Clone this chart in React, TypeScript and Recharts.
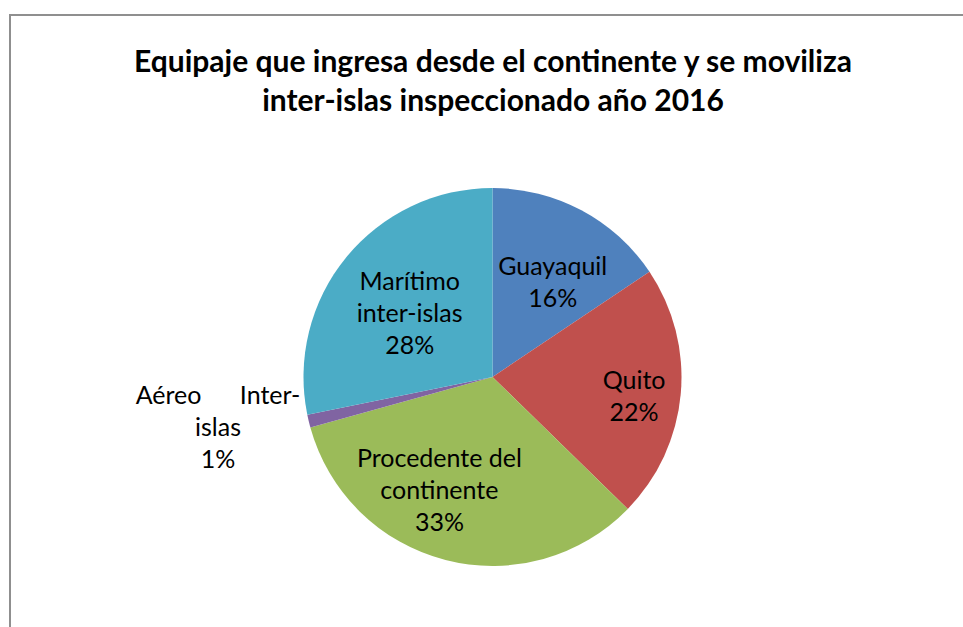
import { PieChart, Pie, Cell } from 'recharts';

const categories = [
  'Guayaquil',
  'Quito',
  'Procedente del continente',
  'Aéreo Inter-islas',
  'Marítimo inter-islas',
];
const values = [15.6, 21.7, 33.4, 1.1, 28.2];
const colors = ['#4F81BD', '#C0504D', '#9BBB59', '#8064A2', '#4BACC6'];

// how each label is broken into lines, where it sits: clockwise turn from the slice's
// mid angle (deg) and distance from the centre (fraction of radius)
const labelLines = [
  ['Guayaquil'],
  ['Quito'],
  ['Procedente del', 'continente'],
  ['Aéreo      Inter-', 'islas'],
  ['Marítimo', 'inter-islas'],
];
const labelTurn = [4, 2, 11, 3.4, -1];
const labelRadius = [0.6, 0.755, 0.655, 1.475, 0.558];

const data = categories.map((name, i) => ({ name, value: values[i] }));

const RAD = Math.PI / 180;
const FONT = 'Lato, sans-serif';

const renderLabel = (props: any) => {
  const { cx, cy, midAngle, outerRadius, percent, index } = props;
  const r = outerRadius * labelRadius[index];
  const a = midAngle - labelTurn[index];
  const x = cx + r * Math.cos(-a * RAD);
  const y = cy + r * Math.sin(-a * RAD);
  const lines = [...labelLines[index], `${Math.round(percent * 100)}%`];
  const lh = 32;
  const y0 = y - ((lines.length - 1) * lh) / 2;
  return (
    <text
      x={x}
      y={y0}
      textAnchor="middle"
      dominantBaseline="central"
      fill="#000"
      fontFamily={FONT}
      fontSize={25}
    >
      {lines.map((l, i) => (
        <tspan key={i} x={x} y={y0 + i * lh} style={{ whiteSpace: 'pre' }}>
          {l}
        </tspan>
      ))}
    </text>
  );
};

export default function App() {
  return (
    <div
      style={{
        position: 'absolute',
        left: 0,
        top: 0,
        width: 963,
        height: 627,
        overflow: 'hidden',
        background: '#fff',
      }}
    >
      {/* chart frame, cut off at right and bottom */}
      <div
        style={{
          position: 'absolute',
          left: 9,
          top: 14,
          width: 1100,
          height: 800,
          border: '2px solid #8f8f8f',
        }}
      />
      <div
        style={{
          position: 'absolute',
          left: 0,
          top: 41,
          width: 986,
          textAlign: 'center',
          fontFamily: FONT,
          fontWeight: 'bold',
          fontSize: 30,
          lineHeight: '39px',
          color: '#000',
        }}
      >
        Equipaje que ingresa desde el continente y se moviliza
        <br />
        inter-islas inspeccionado año 2016
      </div>
      <div style={{ position: 'absolute', left: 0, top: 0 }}>
        <PieChart width={963} height={627} margin={{ top: 0, right: 0, bottom: 0, left: 0 }}>
          <Pie
            data={data}
            dataKey="value"
            nameKey="name"
            cx={492.5}
            cy={377}
            outerRadius={189}
            startAngle={90}
            endAngle={-270}
            stroke="none"
            label={renderLabel}
            labelLine={false}
            isAnimationActive={false}
          >
            {data.map((d, i) => (
              <Cell key={d.name} fill={colors[i]} />
            ))}
          </Pie>
        </PieChart>
      </div>
    </div>
  );
}
